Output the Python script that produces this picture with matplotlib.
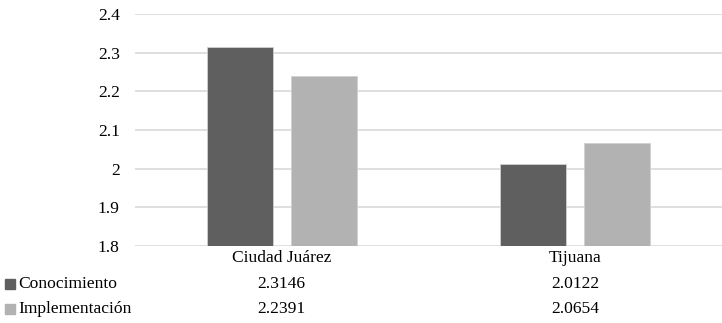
import matplotlib.pyplot as plt
from matplotlib.patches import Rectangle

categories = ['Ciudad Juárez', 'Tijuana']
series_names = ['Conocimiento', 'Implementación']
conocimiento = [2.3146, 2.0122]
implementacion = [2.2391, 2.0654]
value_labels = [['2.3146', '2.0122'], ['2.2391', '2.0654']]
yticks = [1.8, 1.9, 2.0, 2.1, 2.2, 2.3, 2.4]
ytick_labels = ['1.8', '1.9', '2', '2.1', '2.2', '2.3', '2.4']
colors = ['#5f5f5f', '#b2b2b2']

plt.rcParams['font.family'] = ['Liberation Serif', 'DejaVu Serif']
fs = 12.6

fig = plt.figure(figsize=(7.22, 3.23), dpi=100)
ax = fig.add_axes([135 / 722, 1 - 246 / 323, 587 / 722, 232 / 323])

x = list(range(len(categories)))
w = 0.2245
off = 0.143
ax.bar([i - off for i in x], conocimiento, width=w, color=colors[0],
       edgecolor='#d0d0d0', linewidth=0.6, zorder=3)
ax.bar([i + off for i in x], implementacion, width=w, color=colors[1],
       edgecolor='#d0d0d0', linewidth=0.6, zorder=3)

ax.set_xlim(-0.5, 1.5)
ax.set_ylim(1.8, 2.4)
ax.set_yticks(yticks)
ax.set_yticklabels(ytick_labels, fontsize=fs)
ax.set_xticks([])
ax.tick_params(axis='y', length=0, pad=11)
for s in ax.spines.values():
    s.set_visible(False)
ax.yaxis.grid(True, color='#d9d9d9', linewidth=1.2, zorder=0)
ax.set_axisbelow(True)

# data table under the chart
row_y = [258, 284, 309]
for i, c in enumerate(categories):
    cx = ax.transData.transform((i, 0))[0]
    fig.text(cx / 722, 1 - row_y[0] / 323, c, ha='center', va='center', fontsize=fs)
    for r in range(2):
        fig.text(cx / 722, 1 - row_y[r + 1] / 323, value_labels[r][i],
                 ha='center', va='center', fontsize=fs)

for r, name in enumerate(series_names):
    yy = 1 - row_y[r + 1] / 323
    fig.add_artist(Rectangle((5 / 722, yy - 5 / 323), 10 / 722, 10 / 323,
                             transform=fig.transFigure, color=colors[r]))
    fig.text(18 / 722, yy, name, ha='left', va='center', fontsize=fs)

fig.savefig('out.png', dpi=100)
